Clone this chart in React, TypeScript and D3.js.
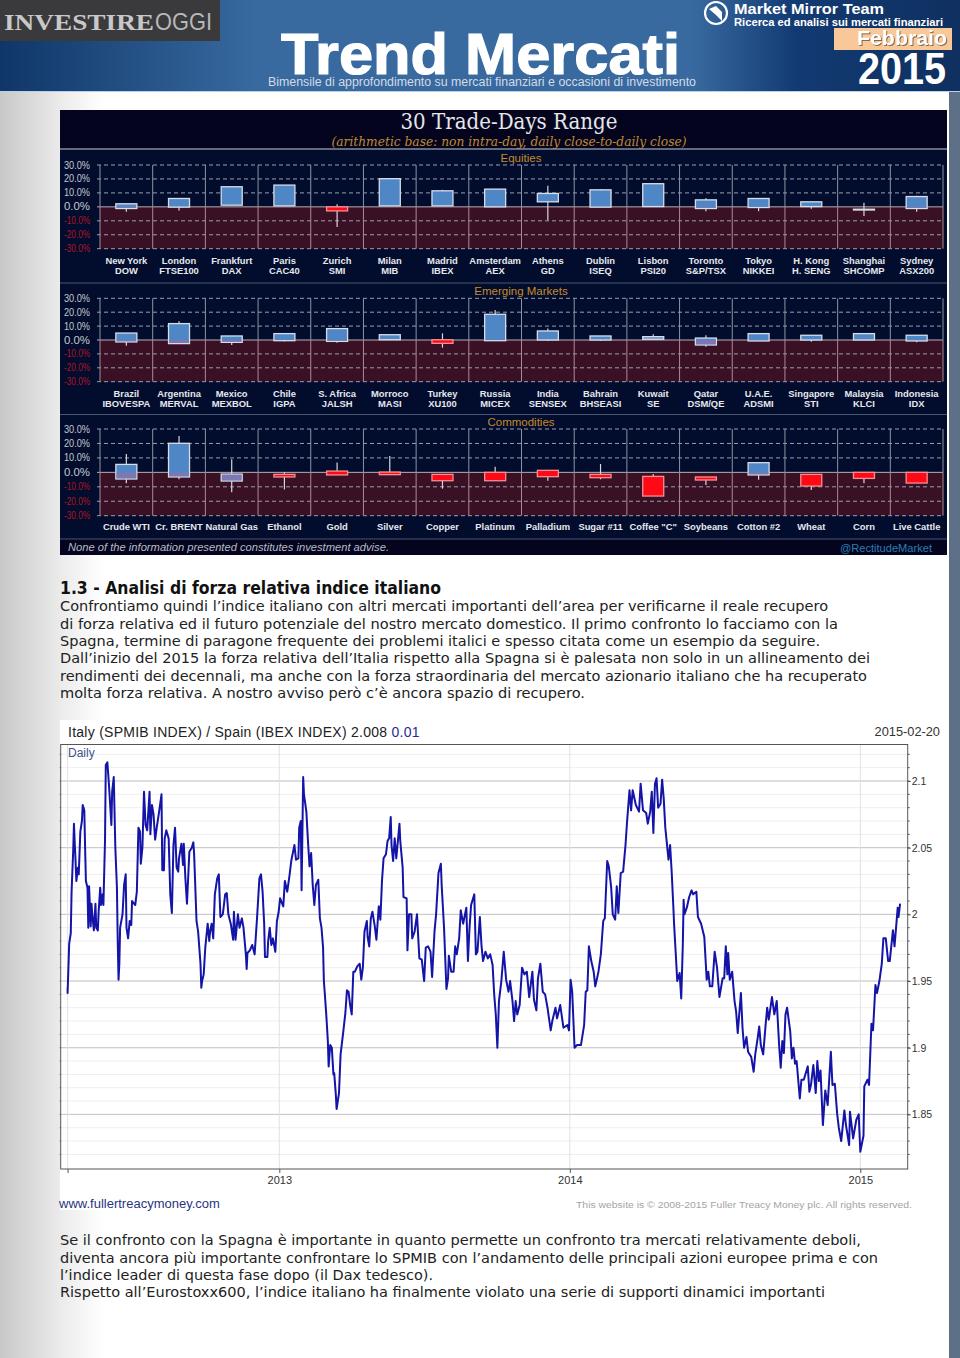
import React, { useEffect, useRef } from 'react';
import * as d3 from 'd3';

const WIDTH = 960;
const HEIGHT = 1358;

// Equities panel
const equityNames = ['New York', 'London', 'Frankfurt', 'Paris', 'Zurich', 'Milan', 'Madrid', 'Amsterdam', 'Athens', 'Dublin', 'Lisbon', 'Toronto', 'Tokyo', 'H. Kong', 'Shanghai', 'Sydney'];
const equityTickers = ['DOW', 'FTSE100', 'DAX', 'CAC40', 'SMI', 'MIB', 'IBEX', 'AEX', 'GD', 'ISEQ', 'PSI20', 'S&P/TSX', 'NIKKEI', 'H. SENG', 'SHCOMP', 'ASX200'];
const equityOpen = [-1.2, -0.2, 1.2, 0.7, 0, 0.7, 0.7, 0, 3.6, -0.2, 0.2, -1.2, -0.5, 0.2, -2.2, -1.2];
const equityClose = [2.2, 6.0, 14.4, 15.6, -2.9, 20.2, 11.5, 12.7, 9.6, 12.2, 16.6, 5.0, 6.0, 3.6, -1.7, 7.4];
const equityHigh = [2.2, 6.0, 14.4, 15.6, 1.9, 20.2, 12.2, 12.7, 15.1, 12.6, 16.6, 6.2, 6.0, 3.6, 2.9, 7.9];
const equityLow = [-3.6, -2.6, 1.2, 0.7, -14.4, 0.7, 0.7, 0, -9.6, -0.2, 0.2, -3.1, -3.1, -1.4, -6.5, -3.6];

// Emerging markets panel
const emergingNames = ['Brazil', 'Argentina', 'Mexico', 'Chile', 'S. Africa', 'Morroco', 'Turkey', 'Russia', 'India', 'Bahrain', 'Kuwait', 'Qatar', 'U.A.E.', 'Singapore', 'Malaysia', 'Indonesia'];
const emergingTickers = ['IBOVESPA', 'MERVAL', 'MEXBOL', 'IGPA', 'JALSH', 'MASI', 'XU100', 'MICEX', 'SENSEX', 'BHSEASI', 'SE', 'DSM/QE', 'ADSMI', 'STI', 'KLCI', 'IDX'];
const emergingOpen = [-1.4, -2.6, -1.7, -0.5, -1.0, 0.2, 0.2, -0.5, 0, 0, 0.5, -3.6, -0.7, 0, 0, -0.7];
const emergingClose = [5.0, 11.8, 2.9, 4.6, 8.2, 3.8, -2.4, 18.5, 6.5, 2.9, 2.4, 1.4, 4.6, 3.4, 4.6, 3.4];
const emergingHigh = [5.0, 13.4, 2.9, 4.6, 8.2, 3.8, 4.8, 21.6, 8.2, 2.9, 4.1, 3.4, 4.6, 3.4, 4.6, 3.4];
const emergingLow = [-4.1, -2.6, -3.6, -1.0, -1.9, 0.2, -5.5, -0.5, -0.7, -0.7, 0.5, -4.8, -0.7, -1.2, 0, -1.7];

// Commodities panel
const commodityNames = ['Crude WTI', 'Cr. BRENT', 'Natural Gas', 'Ethanol', 'Gold', 'Silver', 'Copper', 'Platinum', 'Palladium', 'Sugar #11', 'Coffee "C"', 'Soybeans', 'Cotton #2', 'Wheat', 'Corn', 'Live  Cattle'];
const commodityOpen = [-4.6, -3.2, -6.0, -1.4, 0.9, 0.2, -1.4, 0, 1.4, -1.4, -2.8, -3.2, -1.8, -1.4, 0, 0];
const commodityClose = [5.5, 20.1, -1.2, -3.2, -1.8, -1.6, -5.8, -5.8, -3.0, -3.7, -16.4, -5.3, 6.7, -9.5, -4.2, -7.4];
const commodityHigh = [12.7, 25.2, 9.0, 0, 6.9, 11.3, -1.4, 3.9, 1.4, 5.8, -1.2, -3.2, 6.7, -1.4, 0, 0];
const commodityLow = [-7.6, -4.8, -13.8, -11.8, -1.8, -1.6, -11.3, -5.8, -5.8, -4.8, -16.4, -8.8, -5.1, -12.2, -7.6, -7.4];
// Natural Gas is drawn blue in the source even though open/close read the other way
const commodityBlue = ['Natural Gas'];

const percentTicks = [30, 20, 10, 0, -10, -20, -30];

// Italy / Spain ratio: [days from 2013-01-01, ratio]
const ratioSeries: [number, number][] = [
  [-266, 1.945], [-266, 1.941], [-264, 1.978], [-262, 1.986], [-261, 2.017], [-259, 2.047], [-258, 2.068], [-257, 2.053], [-256, 2.04], [-255, 2.025], [-253, 2.035], [-252, 2.03], [-250, 2.062], [-248, 2.07], [-247, 2.082], [-245, 2.078], [-244, 2.05], [-243, 2.025], [-241, 2.02], [-240, 1.99], [-239, 2.021], [-237, 1.991], [-236, 2.008], [-235, 2.0], [-233, 1.988], [-231, 2.008], [-230, 1.99], [-228, 1.988], [-227, 2.002], [-225, 2.02], [-224, 2.007], [-222, 2.015], [-221, 2.007], [-219, 2.055], [-218, 2.112], [-216, 2.114], [-214, 2.097], [-211, 2.067], [-210, 2.092], [-208, 2.103], [-206, 2.05], [-204, 2.02], [-203, 1.98], [-202, 1.951], [-201, 1.963], [-200, 1.99], [-197, 2.0], [-195, 2.022], [-193, 2.03], [-192, 1.99], [-190, 1.982], [-188, 1.995], [-186, 1.992], [-185, 2.01], [-181, 2.007], [-179, 2.017], [-177, 2.065], [-175, 2.062], [-174, 2.038], [-172, 2.05], [-170, 2.092], [-168, 2.067], [-166, 2.063], [-163, 2.092], [-162, 2.06], [-160, 2.082], [-158, 2.075], [-156, 2.056], [-154, 2.065], [-151, 2.077], [-148, 2.09], [-147, 2.033], [-145, 2.033], [-144, 2.057], [-142, 2.063], [-139, 2.057], [-137, 2.015], [-135, 2.001], [-133, 2.052], [-131, 2.065], [-129, 2.035], [-127, 2.032], [-126, 2.042], [-123, 2.053], [-121, 2.037], [-120, 2.053], [-118, 2.027], [-116, 2.008], [-113, 2.047], [-110, 2.05], [-108, 2.054], [-107, 2.045], [-104, 1.995], [-102, 1.987], [-99, 1.963], [-98, 1.945], [-97, 1.95], [-95, 1.955], [-93, 1.975], [-90, 1.993], [-88, 1.98], [-87, 1.987], [-85, 1.993], [-83, 1.982], [-81, 2.015], [-78, 2.027], [-76, 2.03], [-74, 1.998], [-71, 2.0], [-68, 2.015], [-66, 2.016], [-64, 2.0], [-61, 1.993], [-58, 1.981], [-57, 2.002], [-55, 1.981], [-52, 2.0], [-50, 1.99], [-47, 1.997], [-45, 1.99], [-42, 1.97], [-41, 1.959], [-40, 1.971], [-37, 1.973], [-34, 1.977], [-31, 1.97], [-28, 1.997], [-25, 2.027], [-23, 2.03], [-21, 2.017], [-19, 1.993], [-18, 1.968], [-15, 1.968], [-14, 1.98], [-12, 1.99], [-10, 1.977], [-8, 1.982], [-5, 1.972], [-3, 1.995], [-1, 2.001],
  [1, 2.012], [5, 2.006], [7, 2.025], [10, 2.017], [13, 2.03], [15, 2.04], [19, 2.052], [21, 2.041], [24, 2.042], [25, 2.065], [27, 2.07], [28, 2.018], [30, 2.103], [31, 2.09], [34, 2.077], [36, 2.055], [38, 2.036], [40, 2.046], [42, 2.022], [44, 2.007], [46, 2.022], [49, 2.026], [51, 1.997], [53, 1.99], [55, 1.975], [56, 1.95], [57, 1.942], [59, 1.925], [61, 1.905], [62, 1.886], [64, 1.902], [66, 1.9], [68, 1.88], [69, 1.881], [71, 1.865], [72, 1.854], [75, 1.866], [77, 1.895], [80, 1.91], [83, 1.926], [85, 1.943], [87, 1.942], [89, 1.932], [91, 1.925], [93, 1.957], [95, 1.957], [98, 1.961], [101, 1.963], [103, 1.951], [105, 1.96], [107, 1.987], [110, 1.995], [111, 1.983], [113, 1.976], [115, 1.997], [117, 2.002], [120, 1.991], [122, 1.981], [125, 2.006], [127, 1.996], [129, 2.025], [131, 2.042], [134, 2.045], [136, 2.055], [138, 2.057], [140, 2.073], [141, 2.052], [143, 2.04], [145, 2.057], [147, 2.042], [151, 2.068], [152, 2.055], [155, 2.035], [156, 2.013], [160, 2.012], [161, 1.973], [163, 2.0], [166, 2.0], [167, 1.982], [170, 1.987], [173, 2.0], [176, 1.967], [179, 1.966], [182, 1.95], [184, 1.975], [187, 1.976], [190, 1.972], [192, 1.953], [195, 1.987], [197, 2.0], [200, 2.031], [203, 2.038], [204, 2.022], [207, 1.99], [210, 1.944], [212, 1.952], [213, 1.969], [216, 1.957], [219, 1.957], [221, 1.976], [223, 1.97], [226, 1.982], [228, 2.003], [231, 1.993], [235, 2.005], [237, 1.965], [239, 1.99], [241, 2.007], [245, 2.015], [247, 1.97], [249, 1.972], [252, 1.998], [254, 1.977], [256, 1.965], [259, 1.972], [262, 1.967], [265, 1.97], [268, 1.962], [270, 1.94], [272, 1.925], [274, 1.9], [276, 1.935], [279, 1.95], [282, 1.972], [285, 1.951], [288, 1.942], [290, 1.95], [293, 1.935], [295, 1.92], [297, 1.935], [299, 1.925], [302, 1.932], [305, 1.96], [308, 1.955], [311, 1.957], [314, 1.938], [318, 1.957], [320, 1.936], [323, 1.928], [325, 1.952], [328, 1.963], [331, 1.942], [334, 1.94], [337, 1.93], [341, 1.913], [343, 1.92], [347, 1.93], [349, 1.922], [353, 1.932], [357, 1.915], [362, 1.917], [364, 1.913],
  [366, 1.951], [368, 1.942], [371, 1.9], [374, 1.902], [379, 1.902], [383, 1.917], [385, 1.942], [387, 1.943], [389, 1.976], [392, 1.965], [395, 1.957], [397, 1.946], [401, 1.957], [404, 1.97], [407, 1.995], [409, 1.997], [412, 2.04], [414, 2.036], [417, 2.02], [419, 2.0], [422, 1.996], [424, 2.021], [426, 2.001], [429, 2.031], [432, 2.032], [435, 2.052], [437, 2.07], [440, 2.093], [442, 2.078], [444, 2.093], [448, 2.082], [452, 2.077], [454, 2.098], [457, 2.078], [461, 2.076], [463, 2.068], [466, 2.077], [468, 2.092], [470, 2.061], [472, 2.098], [474, 2.102], [476, 2.08], [479, 2.083], [481, 2.101], [483, 2.087], [485, 2.065], [489, 2.041], [491, 2.052], [493, 2.032], [495, 2.007], [496, 1.993], [498, 1.972], [500, 1.95], [503, 1.956], [505, 1.937], [507, 1.977], [508, 2.011], [509, 2.0], [512, 2.005], [515, 2.013], [518, 2.018], [520, 2.015], [524, 2.017], [526, 1.998], [530, 1.993], [534, 1.983], [537, 1.951], [539, 1.957], [541, 1.946], [544, 1.946], [547, 1.972], [550, 1.96], [553, 1.938], [557, 1.952], [559, 1.952], [561, 1.976], [563, 1.955], [564, 1.971], [566, 1.951], [569, 1.957], [572, 1.935], [574, 1.927], [576, 1.911], [580, 1.941], [582, 1.915], [584, 1.9], [587, 1.908], [589, 1.897], [593, 1.893], [596, 1.882], [598, 1.895], [601, 1.907], [603, 1.916], [605, 1.902], [608, 1.895], [611, 1.917], [613, 1.93], [615, 1.921], [619, 1.938], [622, 1.925], [625, 1.935], [628, 1.902], [630, 1.885], [632, 1.905], [634, 1.896], [636, 1.925], [638, 1.93], [642, 1.912], [644, 1.892], [646, 1.9], [648, 1.888], [650, 1.89], [654, 1.862], [656, 1.876], [659, 1.876], [664, 1.886], [666, 1.867], [668, 1.872], [671, 1.887], [674, 1.866], [676, 1.89], [678, 1.875], [680, 1.883], [683, 1.842], [686, 1.868], [689, 1.857], [693, 1.897], [695, 1.872], [698, 1.873], [701, 1.85], [703, 1.84], [706, 1.83], [710, 1.853], [712, 1.842], [716, 1.827], [717, 1.852], [721, 1.832], [725, 1.846], [728, 1.85],
  [730, 1.822], [734, 1.834], [735, 1.871], [739, 1.876], [741, 1.872], [744, 1.918], [746, 1.913], [749, 1.947], [751, 1.941], [754, 1.95], [757, 1.963], [759, 1.982], [762, 1.982], [765, 1.965], [767, 1.965], [771, 1.988], [773, 1.976], [777, 2.005], [778, 1.998], [780, 2.008],
];
const ratioTicks = [2.1, 2.05, 2, 1.95, 1.9, 1.85];
const yearTicks: [number, string][] = [[-266, ''], [0, '2013'], [365, '2014'], [730, '2015']];

const paragraphOne = [
  { text: 'Confrontiamo quindi l’indice italiano con altri mercati importanti dell’area per verificarne il reale recupero', width: 768 },
  { text: 'di forza relativa ed il futuro potenziale del nostro mercato domestico. Il primo confronto lo facciamo con la', width: 778 },
  { text: 'Spagna, termine di paragone frequente dei problemi italici e spesso citata come un esempio da seguire.', width: 760 },
  { text: 'Dall’inizio del 2015 la forza relativa dell’Italia rispetto alla Spagna si è palesata non solo in un allineamento dei', width: 810 },
  { text: 'rendimenti dei decennali, ma anche con la forza straordinaria del mercato azionario italiano che ha recuperato', width: 807 },
  { text: 'molta forza relativa. A nostro avviso però c’è ancora spazio di recupero.', width: 525 },
];
const paragraphTwo = [
  { text: 'Se il confronto con la Spagna è importante in quanto permette un confronto tra mercati relativamente deboli,', width: 801 },
  { text: 'diventa ancora più importante confrontare lo SPMIB con l’andamento delle principali azioni europee prima e con', width: 818 },
  { text: 'l’indice leader di questa fase dopo (il Dax tedesco).', width: 373 },
  { text: 'Rispetto all’Eurostoxx600, l’indice italiano ha finalmente violato una serie di supporti dinamici importanti', width: 765 },
];

const SANS = '"Liberation Sans", Arial, sans-serif';
const SERIF = '"DejaVu Serif", Georgia, serif';
const BODY = '"DejaVu Sans", Verdana, sans-serif';

function addText(g: any, x: number, y: number, str: string, size: number, fill: string, opts: any = {}) {
  const t = g.append('text')
    .attr('x', x).attr('y', y)
    .attr('font-family', opts.family || SANS)
    .attr('font-size', size)
    .attr('fill', fill)
    .text(str);
  if (opts.weight) t.attr('font-weight', opts.weight);
  if (opts.italic) t.attr('font-style', 'italic');
  if (opts.anchor) t.attr('text-anchor', opts.anchor);
  if (opts.length) t.attr('textLength', opts.length).attr('lengthAdjust', 'spacingAndGlyphs');
  return t;
}

function hGradient(defs: any, id: string, stops: [number, string][]) {
  const grad = defs.append('linearGradient').attr('id', id).attr('x1', 0).attr('x2', 1).attr('y1', 0).attr('y2', 0);
  stops.forEach(([o, c]) => grad.append('stop').attr('offset', o).attr('stop-color', c));
}

// One candlestick panel of the range chart
function drawPanel(svg: any, p: any) {
  const x = d3.scaleBand().domain(p.names).range([100, 943]);
  const y = d3.scaleLinear().domain([-30, 30]).range([p.bottom, p.top]);
  const g = svg.append('g');
  const y0 = y(0);

  g.append('rect').attr('x', 100).attr('y', y0).attr('width', 843).attr('height', p.bottom - y0).attr('fill', '#3a1025');

  percentTicks.forEach((t) => {
    g.append('line').attr('x1', 97).attr('x2', 943).attr('y1', y(t)).attr('y2', y(t))
      .attr('stroke', t === 0 ? '#b8b0b8' : '#98a0b0').attr('stroke-width', 1)
      .attr('stroke-dasharray', t === 0 ? null : '4,3');
    addText(g, 90, y(t) + 3.5, `${t.toFixed(1)}%`, 10, t < 0 ? '#b0142a' : '#c4c8d0', { anchor: 'end', length: 26 });
  });

  d3.range(p.names.length + 1).forEach((i) => {
    const vx = 100 + i * x.step();
    g.append('line').attr('x1', vx).attr('x2', vx).attr('y1', p.top).attr('y2', y0).attr('stroke', '#8d94a4');
    g.append('line').attr('x1', vx).attr('x2', vx).attr('y1', y0).attr('y2', p.bottom).attr('stroke', '#a88a98');
  });

  p.names.forEach((name: string, i: number) => {
    const cx = x(name)! + x.bandwidth() / 2;
    const up = p.close[i] > p.open[i] || (p.blue || []).includes(name);
    g.append('line').attr('x1', cx).attr('x2', cx).attr('y1', y(p.high[i])).attr('y2', y(p.low[i]))
      .attr('stroke', '#dcd6dc').attr('stroke-width', 1.2);
    const bodyTop = y(Math.max(p.open[i], p.close[i]));
    const bodyBottom = y(Math.min(p.open[i], p.close[i]));
    g.append('rect').attr('x', cx - 10.5).attr('y', bodyTop).attr('width', 21).attr('height', Math.max(bodyBottom - bodyTop, 0.8))
      .attr('fill', up ? '#4f86c6' : '#ff0a14')
      .attr('stroke', up ? '#d8dce6' : '#f09098').attr('stroke-width', 1.3);
    if (up && bodyBottom > y0 + 1) {
      g.append('rect').attr('x', cx - 9.8).attr('y', Math.max(y0, bodyTop + 0.7)).attr('width', 19.6)
        .attr('height', bodyBottom - Math.max(y0, bodyTop + 0.7) - 0.7).attr('fill', '#7d78b4');
    }
    addText(g, cx, p.labelY, name, 9.4, '#e6e8ee', { anchor: 'middle', weight: 'bold' });
    if (p.tickers) addText(g, cx, p.labelY + 10.2, p.tickers[i], 9.4, '#e6e8ee', { anchor: 'middle', weight: 'bold' });
  });

  addText(g, 521, p.top - 3, p.title, 11.5, '#c58a2a', { anchor: 'middle' });
}

function drawRangeChart(svg: any) {
  svg.append('rect').attr('x', 60).attr('y', 110).attr('width', 887).attr('height', 445).attr('fill', '#020c2c');
  svg.append('rect').attr('x', 60).attr('y', 110).attr('width', 887).attr('height', 38).attr('fill', '#04041e');
  svg.append('rect').attr('x', 60).attr('y', 539).attr('width', 887).attr('height', 16).attr('fill', '#04041e');
  [[149, '#c8cad0'], [283, '#4a5670'], [414.5, '#4a5670'], [539, '#4a5670']].forEach(([ly, c]) => {
    svg.append('line').attr('x1', 60).attr('x2', 947).attr('y1', ly).attr('y2', ly).attr('stroke', c).attr('stroke-width', 1.2);
  });
  addText(svg, 509, 129, '30 Trade-Days Range', 22, '#e4e6ea', { family: SERIF, anchor: 'middle', length: 217 });
  addText(svg, 509, 146, '(arithmetic base: non intra-day, daily close-to-daily close)', 13.5, '#c08a30', { family: SERIF, italic: true, anchor: 'middle', length: 355 });

  drawPanel(svg, { title: 'Equities', names: equityNames, tickers: equityTickers, open: equityOpen, close: equityClose, high: equityHigh, low: equityLow, top: 165, bottom: 248.7, labelY: 263.5 });
  drawPanel(svg, { title: 'Emerging Markets', names: emergingNames, tickers: emergingTickers, open: emergingOpen, close: emergingClose, high: emergingHigh, low: emergingLow, top: 298.3, bottom: 381.7, labelY: 396.8 });
  drawPanel(svg, { title: 'Commodities', names: commodityNames, open: commodityOpen, close: commodityClose, high: commodityHigh, low: commodityLow, blue: commodityBlue, top: 429, bottom: 515.7, labelY: 530 });

  addText(svg, 68, 551, 'None of the information presented constitutes investment advise.', 11, '#b8bcc6', { italic: true, length: 321 });
  addText(svg, 840, 552, '@RectitudeMarket', 11.5, '#2a7fb4', { length: 92 });
}

function drawRatioChart(svg: any) {
  const left = 60.7;
  const right = 907.7;
  const top = 744.5;
  const bottom = 1169;
  const x = d3.scaleLinear().domain([0, 730]).range([279.3, 860.3]);
  const y = d3.scaleLinear().domain([1.85, 2.1]).range([1114.4, 781]);
  const g = svg.append('g');

  g.append('rect').attr('x', 60).attr('y', 720).attr('width', 888).attr('height', 490).attr('fill', '#fff');

  const minorTicks = d3.range(1.82, 2.14, 0.01).filter((v) => y(v) > top && y(v) < bottom);
  minorTicks.forEach((v) => {
    g.append('line').attr('x1', left).attr('x2', right).attr('y1', y(v)).attr('y2', y(v)).attr('stroke', '#eeeeee');
  });
  ratioTicks.forEach((v) => {
    g.append('line').attr('x1', left).attr('x2', right).attr('y1', y(v)).attr('y2', y(v)).attr('stroke', '#c4c4c4');
  });
  yearTicks.forEach(([d]) => {
    g.append('line').attr('x1', x(d)).attr('x2', x(d)).attr('y1', top).attr('y2', bottom).attr('stroke', '#e2e2e2');
  });

  // frame with the small ticks down both sides
  g.append('rect').attr('x', left).attr('y', top).attr('width', right - left).attr('height', bottom - top)
    .attr('fill', 'none').attr('stroke', '#555');
  minorTicks.forEach((v) => {
    g.append('line').attr('x1', right).attr('x2', right + 2).attr('y1', y(v)).attr('y2', y(v)).attr('stroke', '#555');
    g.append('line').attr('x1', left - 1).attr('x2', left).attr('y1', y(v)).attr('y2', y(v)).attr('stroke', '#555');
  });

  const axisRight = d3.axisRight(y).tickValues(ratioTicks).tickSize(3).tickFormat((v: any) => `${+v}`);
  const ay = g.append('g').attr('transform', `translate(${right},0)`).call(axisRight);
  ay.select('.domain').remove();
  ay.selectAll('text').attr('font-family', SANS).attr('font-size', 10.5).attr('fill', '#333').attr('x', 4);
  ay.selectAll('line').attr('stroke', '#555');

  const axisBottom = d3.axisBottom(x).tickValues(yearTicks.map((d) => d[0])).tickSize(4)
    .tickFormat((d: any) => yearTicks.find((t) => t[0] === d)![1]);
  const ax = g.append('g').attr('transform', `translate(0,${bottom})`).call(axisBottom);
  ax.select('.domain').remove();
  ax.selectAll('text').attr('font-family', SANS).attr('font-size', 11).attr('fill', '#333').attr('dy', '0.75em');
  ax.selectAll('line').attr('stroke', '#555');

  const line = d3.line<[number, number]>().x((d) => x(d[0])).y((d) => y(d[1]));
  g.append('path').datum(ratioSeries).attr('d', line).attr('fill', 'none')
    .attr('stroke', '#1414a8').attr('stroke-width', 2).attr('stroke-linejoin', 'round');

  const title = addText(g, 68, 737, 'Italy (SPMIB INDEX) / Spain (IBEX INDEX) 2.008 ', 14, '#222').attr('letter-spacing', 0.26);
  title.append('tspan').attr('fill', '#2a2a9a').text('0.01');
  addText(g, 68, 757, 'Daily', 12, '#44508a');
  addText(g, 940, 736, '2015-02-20', 12.8, '#333', { anchor: 'end' });
  addText(g, 59, 1208, 'www.fullertreacymoney.com', 13, '#2a3580');
  addText(g, 912, 1208, 'This website is © 2008-2015 Fuller Treacy Money plc. All rights reserved.', 9.6, '#a4a4a8', { anchor: 'end', length: 336 });
}

function drawHeader(svg: any) {
  svg.append('rect').attr('width', WIDTH).attr('height', 91).attr('fill', 'url(#headerFill)');
  svg.append('line').attr('x1', 0).attr('x2', WIDTH).attr('y1', 91.5).attr('y2', 91.5).attr('stroke', '#b8d0e8');
  svg.append('rect').attr('width', 220).attr('height', 41).attr('fill', '#3a3a3c');
  addText(svg, 4, 30, 'INVESTIRE', 24, '#c8c8c8', { family: '"Liberation Serif", serif', weight: 'bold', length: 150 });
  addText(svg, 155, 30, 'OGGI', 24, '#b8b8b8', { length: 57 });

  addText(svg, 281, 74, 'Trend Mercati', 58, '#fff', { weight: 'bold', length: 399 })
    .attr('stroke', '#fff').attr('stroke-width', 1.2);
  addText(svg, 268, 86, 'Bimensile di approfondimento su mercati finanziari e occasioni di investimento', 12, '#d4dae4', { length: 428 });

  svg.append('circle').attr('cx', 716).attr('cy', 13).attr('r', 11).attr('fill', 'none').attr('stroke', '#fff').attr('stroke-width', 2.2);
  svg.append('path').attr('d', 'M709 9 L716 6 L722 12 L722 21 L716 15 Z').attr('fill', '#fff');
  addText(svg, 734, 14, 'Market Mirror Team', 15, '#fff', { weight: 'bold', length: 150 });
  addText(svg, 734, 26, 'Ricerca ed analisi sui mercati finanziari', 11.5, '#fff', { weight: 'bold', length: 209 });
  svg.append('rect').attr('x', 834).attr('y', 28).attr('width', 118).attr('height', 22).attr('fill', '#f8c898');
  addText(svg, 857, 45, 'Febbraio', 20, '#fff', { weight: 'bold', length: 90 })
    .style('filter', 'drop-shadow(1px 1px 0 #8a6a48)');
  addText(svg, 858, 84, '2015', 44, '#fff', { weight: 'bold', length: 88 });
}

export default function App() {
  const ref = useRef<SVGSVGElement>(null);

  useEffect(() => {
    const svg = d3.select(ref.current);
    svg.selectAll('*').remove();
    const defs = svg.append('defs');
    hGradient(defs, 'headerFill', [[0, '#0f3668'], [0.27, '#386aa0'], [0.72, '#386aa0'], [0.83, '#123a72'], [1, '#0f3060']]);
    hGradient(defs, 'pageFill', [[0, '#c8c8c8'], [0.6, '#ececec'], [1, '#ffffff']]);

    svg.append('rect').attr('width', WIDTH).attr('height', HEIGHT).attr('fill', '#fff');
    svg.append('rect').attr('y', 92).attr('width', 104).attr('height', HEIGHT - 92).attr('fill', 'url(#pageFill)');
    svg.append('rect').attr('x', 949).attr('y', 92).attr('width', 11).attr('height', HEIGHT - 92).attr('fill', '#5e7088');

    drawHeader(svg);
    drawRangeChart(svg);

    addText(svg, 60, 593.5, '1.3 - Analisi di forza relativa indice italiano', 18, '#111', { family: BODY, weight: 'bold', length: 381 });
    paragraphOne.forEach((l, i) => {
      addText(svg, 60, [611, 629, 646, 663, 681, 698][i], l.text, 14, '#222', { family: BODY, length: l.width });
    });

    drawRatioChart(svg);

    paragraphTwo.forEach((l, i) => {
      addText(svg, 60, [1245, 1263, 1280, 1297][i], l.text, 14, '#222', { family: BODY, length: l.width });
    });
  }, []);

  return (
    <svg ref={ref} width={WIDTH} height={HEIGHT} style={{ position: 'absolute', left: 0, top: 0, display: 'block' }} />
  );
}
